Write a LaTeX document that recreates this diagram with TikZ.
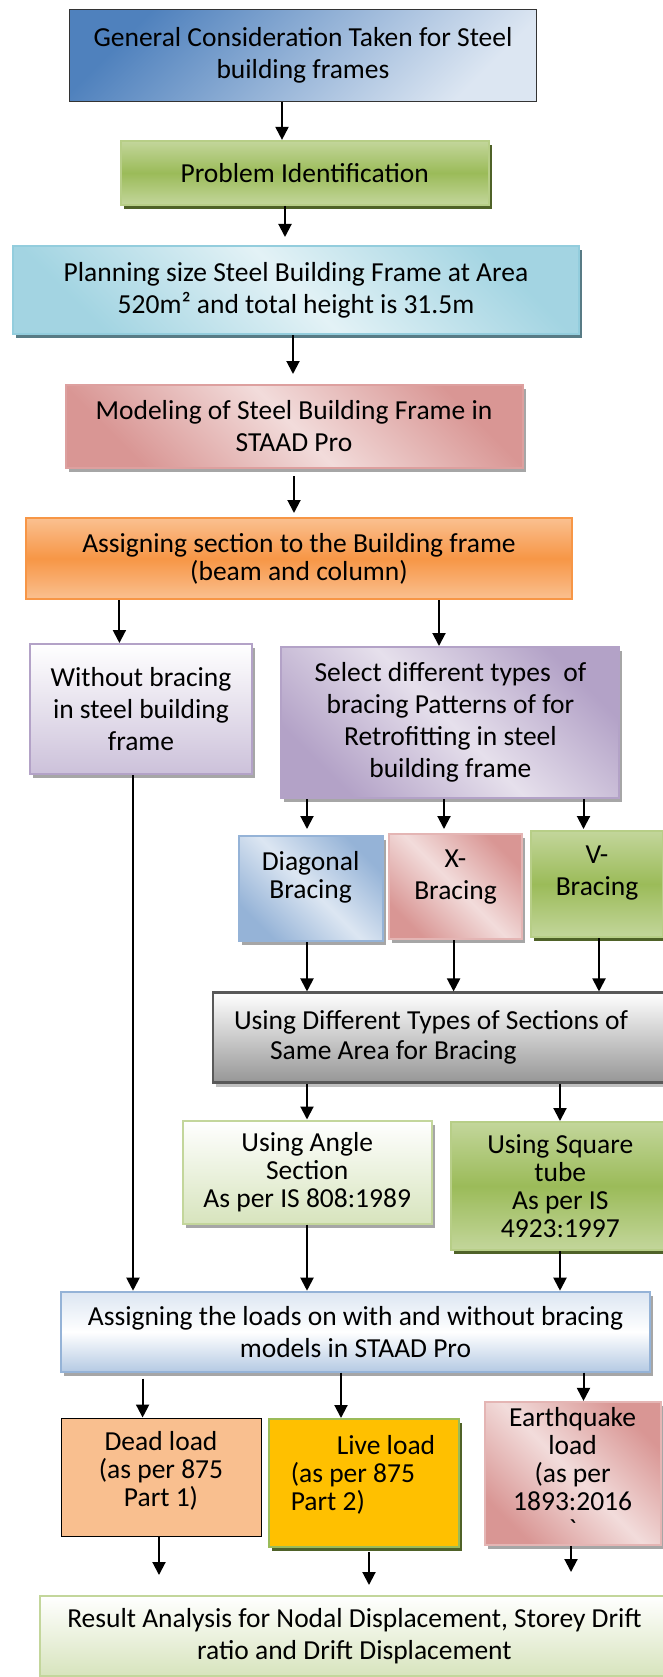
\documentclass[tikz,border=0pt]{standalone}
\usepackage{fontspec}
\setmainfont{Carlito}
\usetikzlibrary{positioning,shadows,arrows.meta}

\definecolor{blueD}{HTML}{4F81BD}
\definecolor{blueM}{HTML}{95B3D7}
\definecolor{blueL}{HTML}{DCE6F2}
\definecolor{greenD}{HTML}{9BBB59}
\definecolor{greenL}{HTML}{C3D69B}
\definecolor{greenP}{HTML}{D7E4BD}
\definecolor{oliveS}{HTML}{4F6228}
\definecolor{cyanD}{HTML}{93CDDD}
\definecolor{cyanL}{HTML}{E3F2F6}
\definecolor{pinkD}{HTML}{D99694}
\definecolor{pinkL}{HTML}{F2DCDB}
\definecolor{orangeD}{HTML}{F79646}
\definecolor{orangeL}{HTML}{FAC090}
\definecolor{purpleD}{HTML}{B3A2C7}
\definecolor{purpleM}{HTML}{CCC1DA}
\definecolor{purpleL}{HTML}{E6E0EC}
\definecolor{grayD}{HTML}{595959}
\definecolor{grayM}{HTML}{969696}
\definecolor{deadC}{HTML}{F9BF8F}
\definecolor{liveC}{HTML}{FFC000}

\tikzset{
    stage/.style={rectangle, align=center, inner sep=3pt, line width=2pt, font=\fontsize{27.5}{#1}\selectfont},
    stage/.default=32,
    band/.style 2 args={top color=#1, bottom color=#1, middle color=#2},
    cross/.style 2 args={left color=#1, right color=#1, middle color=#2, shading angle=135},
    fade/.style 2 args={top color=#1, bottom color=#2},
    shd/.style={drop shadow={shadow xshift=3pt, shadow yshift=-4pt, fill=#1, opacity=1}},
    shd/.default=black!35,
    arr/.style={-{Triangle[length=13pt,width=13pt]}, line width=2pt},
}

\begin{document}
\begin{tikzpicture}[x=1pt, y=-1pt]
    \useasboundingbox (0,0) rectangle (663,1677);
    \clip (0,0) rectangle (663,1677);

    \node[stage, draw=black!80, line width=1pt, left color=blueD, right color=blueL, shading angle=45, minimum width=467pt, minimum height=92pt] (gen) at (303,55.5) {General Consideration Taken for Steel\\building frames};
    \node[stage, draw=greenL!70!greenD, band={greenL}{greenD}, shd=oliveS, minimum width=368pt, minimum height=64pt] (prob) at (304.7,172.9) {Problem Identification};
    \node[stage, draw=cyanD, cross={cyanD!85}{cyanL}, shd=cyanD!60!black, minimum width=566pt, minimum height=88pt] (plan) at (296,290) {Planning size Steel Building Frame at Area\\520m² and total height is 31.5m};
    \node[stage, draw=pinkD!90, cross={pinkD}{pinkL}, shd, minimum width=457pt, minimum height=83pt] (model) at (294,426.5) {Modeling of Steel Building Frame in\\STAAD Pro};
    \node[stage=28, draw=orangeD, band={orangeL}{orangeD}, minimum width=546pt, minimum height=81pt] (asec) at (299,558.5) {Assigning section to the Building frame\\(beam and column)};

    \node[stage, draw=purpleD, fade={white}{purpleM}, shd, minimum width=222pt, minimum height=130pt] (nobr) at (141,709) {Without bracing\\in steel building\\frame};
    \node[stage, draw=purpleD, cross={purpleD}{purpleL}, shd, minimum width=338pt, minimum height=151pt] (sel) at (450.4,722.5) {Select different types~ of\\bracing Patterns of for\\Retrofitting in steel\\building frame};

    \node[stage=28, draw=blueM, cross={blueM}{blueL}, shd, text depth=28pt, minimum width=144pt, minimum height=105pt] (diag) at (310.6,888.5) {Diagonal\\Bracing};
    \node[stage, draw=pinkD!70, cross={pinkD}{pinkL}, shd, text depth=24pt, minimum width=133pt, minimum height=105pt] (xbr) at (455.5,886.5) {X-\\Bracing};
    \node[stage, draw=greenL!70!greenD, band={greenL}{greenD}, shd=oliveS, text depth=26pt, minimum width=132pt, minimum height=106pt] (vbr) at (597,884) {V-\\Bracing};

    \node[stage=30, draw=grayD, line width=2.5pt, fade={white}{grayM}, shd=black!25, align=flush left, inner xsep=21pt, text width=435pt, minimum height=90pt] (sect) at (451.5,1037.7) {Using Different Types of Sections of\\\hspace*{36pt}Same Area for Bracing};

    \node[stage=28, draw=greenL, fade={white}{greenP}, shd, minimum width=249pt, minimum height=103pt] (angle) at (307.2,1172) {Using Angle\\Section\\As per IS 808:1989};
    \node[stage=28, draw=greenL!70!greenD, band={greenL}{greenD}, shd=oliveS, minimum width=218pt, minimum height=128pt] (tube) at (560.3,1186) {Using Square\\tube\\As per IS\\4923:1997};

    \node[stage, draw=blueM, top color=blueL, bottom color=blueM!70, middle color=white, shd, minimum width=589pt, minimum height=80pt] (loads) at (355.5,1331.7) {Assigning the loads on with and without bracing\\models in STAAD Pro};

    \node[stage=28, draw=black, line width=1pt, fill=deadC, text depth=16pt, minimum width=200pt, minimum height=118pt] (dead) at (161,1477) {Dead load\\(as per 875\\Part 1)};
    \node[stage=28, draw=greenD, fill=liveC, shd=oliveS, align=flush left, inner xsep=22pt, text width=146pt, text depth=77pt, minimum height=128pt] (live) at (363.8,1483) {\hspace*{46pt}Live load\\(as per 875\\Part 2)};
    \node[stage=28, draw=pinkD!70, cross={pinkD}{pinkL}, shd, minimum width=176pt, minimum height=143pt] (quake) at (572.6,1473.4) {Earthquake\\load\\(as per\\1893:2016\\\textasciigrave};

    \node[stage, draw=greenL, fade={white}{greenP}, minimum width=629pt, minimum height=80pt] (res) at (354.4,1636) {Result Analysis for Nodal Displacement, Storey Drift\\ratio and Drift Displacement};

    \draw[arr] (gen.south -| 282,0) -- (prob.north -| 282,0);
    \draw[arr, shorten >=8pt] (prob.south -| 285,0) -- (plan.north -| 285,0);
    \draw[arr, shorten >=10pt] (plan.south -| 293,0) -- (model.north -| 293,0);
    \draw[arr, shorten <=7pt, shorten >=4pt] (model.south -| 294,0) -- (asec.north -| 294,0);
    \draw[arr] (asec.south -| 119.4,0) -- (nobr.north -| 119.4,0);
    \draw[arr] (asec.south -| 439,0) -- (sel.north -| 439,0);

    \draw[arr, shorten >=6pt] (sel.south -| 307,0) -- (diag.north -| 307,0);
    \draw[arr, shorten >=4pt] (sel.south -| 444,0) -- (xbr.north -| 444,0);
    \draw[arr, shorten >=1pt] (sel.south -| 583.5,0) -- (vbr.north -| 583.5,0);

    \draw[arr] (diag.south -| 307,0) -- (sect.north -| 307,0);
    \draw[arr] (xbr.south -| 453.6,0) -- (sect.north -| 453.6,0);
    \draw[arr] (vbr.south -| 599,0) -- (sect.north -| 599,0);

    \draw[arr] (sect.south -| 307,0) -- (angle.north -| 307,0);
    \draw[arr] (sect.south -| 560,0) -- (tube.north -| 560,0);

    \draw[arr] (nobr.south -| 133,0) -- (loads.north -| 133,0);
    \draw[arr] (angle.south -| 307,0) -- (loads.north -| 307,0);
    \draw[arr] (tube.south -| 560,0) -- (loads.north -| 560,0);

    \draw[arr, shorten <=6pt] (loads.south -| 142.6,0) -- (dead.north -| 142.6,0);
    \draw[arr] (loads.south -| 341,0) -- (live.north -| 341,0);
    \draw[arr] (loads.south -| 583.5,0) -- (quake.north -| 583.5,0);

    \draw[arr, shorten >=20pt] (dead.south -| 159,0) -- (res.north -| 159,0);
    \draw[arr, shorten <=4pt, shorten >=10pt] (live.south -| 369,0) -- (res.north -| 369,0);
    \draw[arr, shorten >=23pt] (quake.south -| 571,0) -- (res.north -| 571,0);
\end{tikzpicture}
\end{document}
